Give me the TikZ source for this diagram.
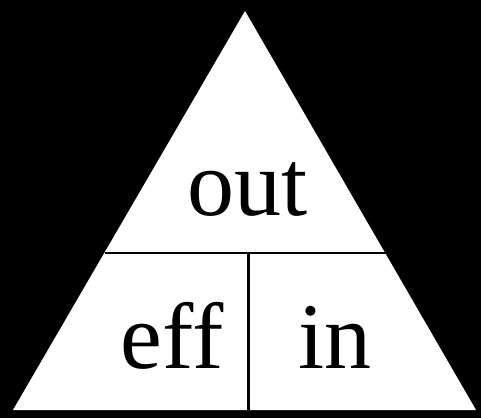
\documentclass[tikz,border=0pt]{standalone}
\usepackage{fontspec}
\setmainfont{Liberation Serif}
\begin{document}
\begin{tikzpicture}[x=1pt,y=1pt,
  lbl/.style={inner sep=0pt,anchor=base,font=\fontsize{94}{100}\selectfont},
  divider/.style={line width=2.2pt,black}]
\fill[black] (0,0) rectangle (481,418);
\useasboundingbox (0,0) rectangle (481,418);
\coordinate (A) at (245,407);
\coordinate (L) at (13,8);
\coordinate (R) at (476,8);
\fill[white] (A) -- (L) -- (R) -- cycle;
\coordinate (ml) at (104.5,165);
\coordinate (mr) at (385.5,165);
\coordinate (vt) at (248.5,165);
\coordinate (vb) at (248.5,8);
\draw[divider] (ml) -- (mr);
\draw[divider] (vt) -- (vb);
\node[lbl] (out) at (248,203) {out};
\node[lbl] (eff) at (172,50) {eff};
\node[lbl] (in) at (335,50) {in};
\end{tikzpicture}
\end{document}
